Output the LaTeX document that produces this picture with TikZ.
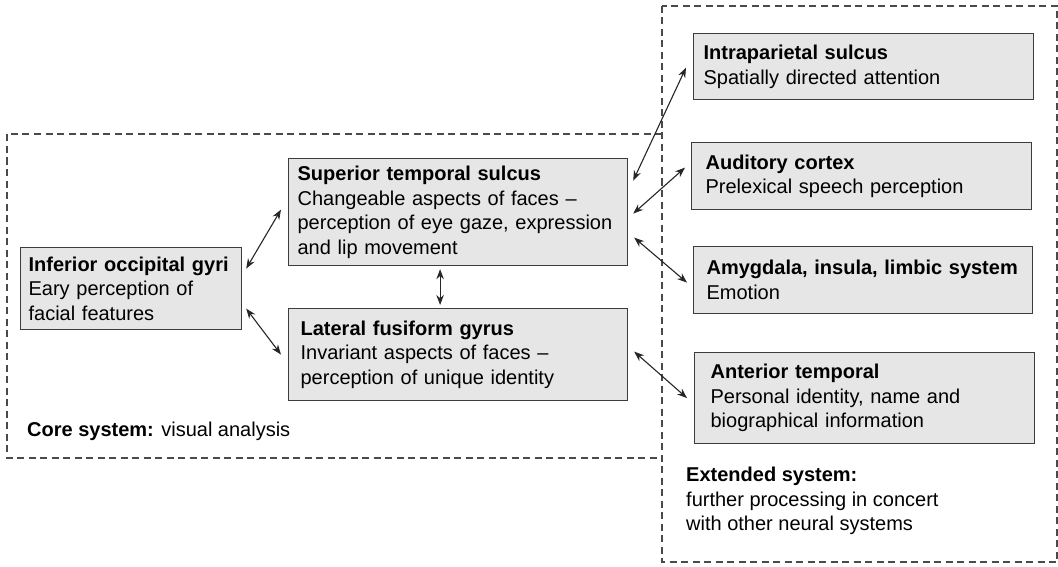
\documentclass[tikz,border=0pt]{standalone}
\usepackage{fontspec}
\setmainfont{Liberation Sans}
\usepackage{tikz}
\usetikzlibrary{arrows.meta}

\definecolor{boxfill}{HTML}{E6E6E6}
\definecolor{boxline}{HTML}{3C3C3C}
\definecolor{dashline}{HTML}{4A4A4A}

\tikzset{
  area/.style={draw=boxline, fill=boxfill, line width=1.2pt, anchor=north west,
    align=left, inner ysep=3pt, font=\fontsize{20}{24.5}\selectfont},
  link/.style={{Stealth[length=10pt,width=7.5pt]}-{Stealth[length=10pt,width=7.5pt]},
    line width=1.1pt, draw=black!85},
  system/.style={draw=dashline, line width=1.2pt, dash pattern=on 7pt off 4.5pt},
  label/.style={inner sep=0pt, align=left, font=\fontsize{20}{24.5}\selectfont}
}

\begin{document}
\begin{tikzpicture}[x=1pt, y=-1pt]
    \useasboundingbox (0,0) rectangle (1058,567);

    % Systems
    \draw[system] (662,134) -- (7,134) -- (7,458) -- (662,458);
    \draw[system] (662,6) rectangle (1057,562);

    % Nodes
    \node (iog) [area, inner xsep=8pt, text width=205pt, minimum height=82pt] at (20,247)
      {\textbf{Inferior occipital gyri}\\Eary perception of\\facial features};
    \node (sts) [area, inner xsep=9pt, text width=321pt, minimum height=107pt] at (288,158)
      {\textbf{Superior temporal sulcus}\\Changeable aspects of faces --\\perception of eye gaze, expression\\and lip movement};
    \node (lfg) [area, inner xsep=12pt, text width=315pt, minimum height=92pt] at (288,308)
      {\textbf{Lateral fusiform gyrus}\\Invariant aspects of faces --\\perception of unique identity};
    \node (ips) [area, inner xsep=10pt, text width=320pt, minimum height=66pt] at (693,33)
      {\textbf{Intraparietal sulcus}\\Spatially directed attention};
    \node (ac) [area, inner xsep=14pt, text width=312pt, minimum height=67pt] at (691,142)
      {\textbf{Auditory cortex}\\Prelexical speech perception};
    \node (amy) [area, inner xsep=13pt, text width=313pt, minimum height=67pt] at (693,246)
      {\textbf{Amygdala, insula, limbic system}\\Emotion};
    \node (at) [area, inner xsep=16pt, text width=308pt, minimum height=91pt] at (694,352)
      {\textbf{Anterior temporal}\\Personal identity, name and\\biographical information};

    \node (core) [label, anchor=base west] at (27,436) {\textbf{Core system:} visual analysis};
    \node (extended) [label, anchor=north west] at (686,467)
      {\textbf{Extended system:}\\further processing in concert\\with other neural systems};

    % Arrows
    \draw[link] ([xshift=4pt,yshift=20pt]iog.east) -- ([xshift=-7pt,yshift=2.5pt]sts.west);
    \draw[link] ([xshift=4pt,yshift=-20pt]iog.east) -- ([xshift=-7pt]lfg.west);
    \draw[link] ([xshift=-18pt,yshift=-3pt]sts.south) -- ([xshift=-18pt,yshift=3pt]lfg.north);
    \draw[link] ([xshift=5pt,yshift=31.5pt]sts.east) -- ([xshift=-7pt,yshift=-1pt]ips.west);
    \draw[link] ([xshift=5pt,yshift=-1.5pt]sts.east) -- ([xshift=-6pt,yshift=8.5pt]ac.west);
    \draw[link] ([xshift=6pt,yshift=-25.5pt]sts.east) -- ([xshift=-6pt,yshift=-2.5pt]amy.west);
    \draw[link] ([xshift=6pt,yshift=3pt]lfg.east) -- ([xshift=-7pt]at.west);
\end{tikzpicture}
\end{document}
